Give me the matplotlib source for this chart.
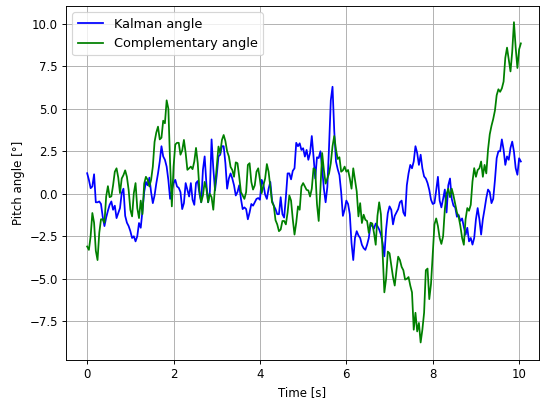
import numpy as np
import matplotlib
matplotlib.use("Agg")
import matplotlib.pyplot as plt

# Sample period of the logged IMU estimates [s]
dt = 0.04

# Pitch estimates from the Kalman filter [deg]
kalman_angle = [
    1.21, 0.82, 0.33, 0.43, 1.15, -0.5, -0.5, -0.45, -0.6, -1.35,
    -1.9, -1.4, -1.0, -0.65, -0.45, -0.94, -0.7, -1.43, -1.13, -0.84,
    0.04, 0.3, -1.3, -1.7, -1.9, -2.2, -2.6, -2.5, -2.8, -2.5,
    -1.72, -2.0, -1.0, 0.1, 0.7, 0.5, 0.95, 0.1, -0.55, -0.1,
    0.6, 1.2, 1.9, 2.8, 2.2, 2.0, 1.6, 0.8, -0.3, 0.2,
    0.63, 0.82, 0.43, 0.35, 0.1, -0.9, -0.55, 0.63, 0.23, -0.16,
    0.63, -0.35, -0.65, 0.63, 0.75, 0.0, -0.5, 1.41, 2.2, 0.6,
    -0.5, 0.1, 3.2, 1.5, 0.2, 1.1, 2.2, 2.3, 2.8, 2.8,
    1.8, 0.3, 0.9, 1.2, 0.9, 0.5, -0.1, 0.1, 0.5, -0.3,
    -0.9, -0.8, -0.9, -1.5, -1.1, -0.6, -0.7, -0.5, -0.3, -0.25,
    -0.35, 0.82, 0.55, -0.05, -0.3, 0.3, 0.7, -0.4, -0.7, -0.9,
    -1.2, -1.2, -0.2, -1.2, -1.4, -0.2, 1.2, 1.2, 0.85, 1.35,
    1.5, 3.0, 2.8, 2.97, 2.58, 2.68, 2.19, 2.58, 2.0, 2.4,
    3.4, 2.2, 0.9, 2.15, 2.1, 2.5, 1.5, 0.3, -0.5, 0.4,
    2.8, 5.5, 6.3, 3.7, 1.9, 1.45, 1.1, 0.1, -1.3, -0.94,
    -0.4, -0.6, -1.2, -2.9, -3.9, -2.6, -2.2, -2.45, -2.6, -3.0,
    -3.2, -3.3, -3.0, -2.6, -1.8, -1.9, -2.05, -1.75, -1.9, -2.1,
    -2.4, -2.9, -3.68, -2.1, -1.14, -0.74, -0.94, -1.8, -1.3, -1.1,
    -0.9, -0.5, -0.4, -1.1, -1.3, 0.5, 1.2, 1.7, 1.5, 1.9,
    2.8, 2.4, 1.7, 2.3, 1.5, 1.02, 0.9, 0.63, 0.23, -0.35,
    -0.6, -0.55, 0.2, 1.0, -0.4, -0.8, -0.3, 0.25, -1.1, 0.5,
    0.9, -0.3, -0.7, -0.8, -1.35, -1.25, -1.6, -1.45, -1.95, -2.41,
    -2.0, -2.8, -2.6, -2.99, -2.6, -1.5, -0.84, -1.5, -2.4, -1.5,
    -0.9, -0.25, 0.25, 0.1, -0.55, -0.3, 0.8, 2.1, 2.5, 2.5,
    3.2, 2.6, 1.7, 2.2, 2.0, 2.7, 3.07, 2.49, 1.51, 1.12,
    2.09, 1.9,
]

# Pitch estimates from the complementary filter [deg]
complementary_angle = [
    -3.1, -3.3, -2.5, -1.13, -1.7, -3.35, -3.9, -2.3, -1.5, -1.5,
    -1.7, -0.16, 0.45, -0.2, -0.15, 0.5, 1.3, 1.5, 0.95, 0.04,
    0.9, 1.1, 1.38, 1.0, 0.23, -0.94, -1.33, 0.04, 0.63, -0.84,
    -1.43, -0.4, -1.2, 0.6, 1.0, 0.82, 0.43, 0.82, 1.6, 3.05,
    3.6, 3.95, 3.2, 3.3, 4.3, 4.15, 5.5, 5.0, 1.8, -0.74,
    1.6, 2.9, 3.0, 3.0, 2.3, 2.55, 3.17, 2.4, 1.41, 1.5,
    1.6, 1.45, 1.9, 2.7, 1.8, 0.2, -0.5, -0.1, 0.7, 0.3,
    -0.5, 0.0, -0.2, -0.94, 0.43, 1.6, 2.78, 2.39, 3.17, 3.46,
    3.1, 2.5, 2.2, 1.58, 1.4, 1.0, 1.85, 1.8, 1.0, 0.1,
    -0.1, -0.3, 0.1, 1.7, 1.8, 0.7, 0.25, 0.5, 1.3, 1.5,
    0.82, 0.04, 0.5, 0.9, 1.75, 1.3, 0.4, -0.5, -0.7, -1.55,
    -1.8, -2.2, -2.1, -1.6, -1.6, -1.8, -1.1, -0.1, -0.4, -1.5,
    -2.4, -1.7, -0.74, -0.94, 0.43, 0.63, 0.43, 0.23, 0.2, -0.16,
    0.3, 1.5, 1.4, -0.6, -1.6, 0.3, 2.4, 1.4, 0.6, 0.9,
    1.2, 1.8, 2.8, 3.4, 2.6, 2.05, 2.15, 1.3, 1.38, 1.6,
    1.3, 1.4, 0.9, 0.3, 1.5, 0.82, 0.14, -1.33, -0.55, -1.72,
    -1.23, -1.53, -1.6, -2.3, -1.7, -1.75, -2.3, -3.0, -1.3, -0.5,
    -1.2, -3.5, -5.8, -5.0, -3.4, -3.5, -4.2, -4.9, -5.4, -4.5,
    -3.7, -3.9, -4.3, -4.5, -5.05, -5.0, -4.9, -5.4, -5.8, -8.0,
    -7.0, -8.1, -7.6, -8.75, -8.0, -7.0, -4.5, -4.4, -6.2, -5.3,
    -3.6, -1.8, -1.45, -1.9, -2.6, -2.95, -2.5, -0.9, 0.0, 0.3,
    -0.2, 0.3, -0.1, -0.6, -1.1, -1.35, -1.9, -2.6, -3.0, -1.5,
    -0.84, -1.0, -0.65, 0.72, 1.51, 1.0, 1.4, 1.5, 1.9, 1.0,
    1.7, 1.2, 2.6, 3.5, 4.0, 4.4, 4.9, 5.8, 6.15, 6.0,
    6.2, 6.6, 8.0, 8.6, 7.9, 7.2, 8.36, 10.1, 8.6, 7.4,
    8.5, 8.85,
]

time_s = np.arange(len(kalman_angle)) * dt

fig = plt.figure(figsize=(540 / 84.375, 399 / 84.375), dpi=84.375)
ax = fig.add_axes([66 / 540, 1 - 360 / 399, 473 / 540, 354 / 399])

ax.plot(time_s, kalman_angle, color="blue", lw=1.5, label="Kalman angle")
ax.plot(time_s, complementary_angle, color="green", lw=1.5,
        label="Complementary angle")

ax.set_xlim(-0.49, 10.46)
ax.set_ylim(-9.78, 11.05)
ax.set_xticks(np.arange(0, 11, 2))
ax.set_yticks(np.arange(-7.5, 10.1, 2.5))
ax.grid(True)
ax.set_xlabel("Time [s]")
ax.set_ylabel("Pitch angle [°]")
ax.legend(loc="upper left", fontsize=11)

fig.savefig("out.png", dpi=84.375)
